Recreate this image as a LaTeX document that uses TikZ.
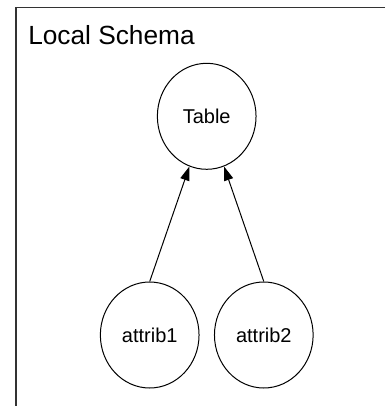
\documentclass[tikz,border=0pt]{standalone}
\usepackage{fontspec}
\setmainfont{Liberation Sans}
\usetikzlibrary{shapes.geometric,arrows.meta}

\tikzset{
  attr/.style={draw, ellipse, line width=0.75pt, minimum width=74pt, minimum height=79.5pt,
    inner sep=0pt, font=\fontsize{15}{17}\selectfont},
  link/.style={line width=0.75pt, -{Triangle[length=10.5pt,width=7pt]}}
}

\begin{document}
\begin{tikzpicture}[x=0.75pt,y=-0.75pt]
    \useasboundingbox (0,0) rectangle (385,406);
    % Schema frame
    \draw[line width=1.4pt, black!80] (385,7.5) -- (16,7.5) -- (16,406);
    \node[anchor=base west, inner sep=0pt, font=\fontsize{19.7}{22}\selectfont] (title) at (28,45) {Local Schema};
    % Table and its attributes
    \node[attr] (tbl) at (206.7,116.3) {Table};
    \node[attr] (attribA) at (149.7,335) {attrib1};
    \node[attr] (attribB) at (263.8,335) {attrib2};
    % References
    \draw[link] (attribA.north) -- (tbl);
    \draw[link] (attribB.north) -- (tbl);
\end{tikzpicture}
\end{document}
